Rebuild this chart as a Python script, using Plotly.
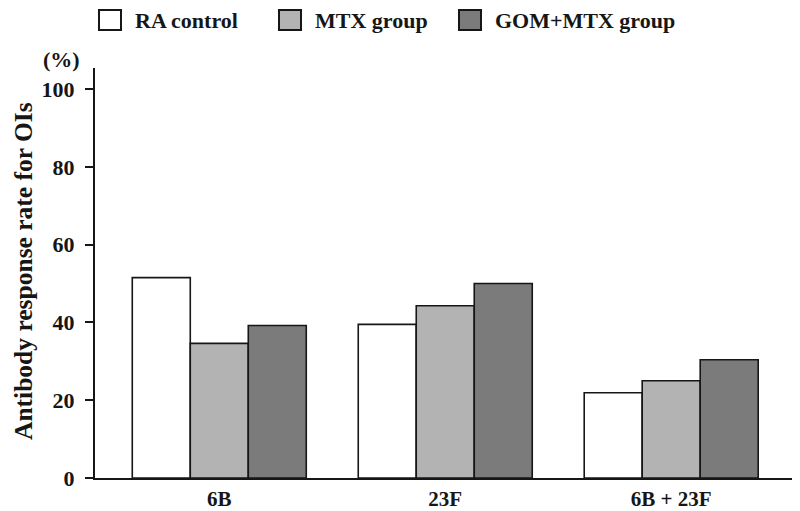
import plotly.graph_objects as go

categories = ["6B", "23F", "6B + 23F"]
ra_control = [51.5, 39.5, 21.9]
mtx_group = [34.6, 44.3, 25.0]
gom_mtx_group = [39.2, 50.0, 30.4]
series_names = ["RA control", "MTX group", "GOM+MTX group"]
series_colors = ["#ffffff", "#b3b3b3", "#7b7b7b"]
y_ticks = [0, 20, 40, 60, 80, 100]

FONT = "Liberation Serif"
INK = "#161616"

# the page adds an 8px body margin; the figure is sized to fill the rest
OFF = 8
W, H = 800 - OFF, 511 - OFF
# plot-area geometry in screen pixels
L, R, T, B = 95, 800, 68, 478
def px(x):
    return (x - L) / (R - L)
def py(y):
    return (B - y) / (B - T)

fig = go.Figure()
for name, vals, col in zip(series_names, [ra_control, mtx_group, gom_mtx_group], series_colors):
    fig.add_trace(go.Bar(
        x=categories, y=vals, name=name, showlegend=False,
        marker=dict(color=col, line=dict(color=INK, width=1.6)),
    ))

fig.update_layout(
    width=W, height=H,
    barmode="group", bargap=0.23, bargroupgap=0,
    plot_bgcolor="white", paper_bgcolor="white",
    margin=dict(l=L - OFF, r=800 - R, t=T - OFF, b=511 - B),
    font=dict(family=FONT, color=INK),
    showlegend=False,
)
fig.update_xaxes(
    range=[-0.55, 2.57], showline=True, linecolor=INK, linewidth=2,
    ticks="", showgrid=False, automargin=False, ticklabelstandoff=1,
    tickfont=dict(family=FONT, size=21, color=INK, weight="bold"),
)
fig.update_yaxes(
    range=[0, 105.4], showline=True, linecolor=INK, linewidth=2,
    ticks="outside", ticklen=8, tickwidth=2, tickcolor=INK,
    tickvals=y_ticks, showgrid=False, zeroline=False, automargin=False,
    ticklabelstandoff=6,
    tickfont=dict(family=FONT, size=22, color=INK, weight="bold"),
)

# y-axis title
fig.add_annotation(
    text="Antibody response rate for OIs", xref="paper", yref="paper",
    x=px(23), y=py(271), xanchor="center", yanchor="middle",
    textangle=-90, showarrow=False,
    font=dict(family=FONT, size=25.5, color=INK, weight="bold"),
)
# unit label
fig.add_annotation(
    text="(%)", xref="paper", yref="paper", x=px(61), y=py(60),
    xanchor="center", yanchor="middle",
    showarrow=False, font=dict(family=FONT, size=22, color=INK, weight="bold"),
)

# custom legend with large square swatches
box_left = [99, 279, 459]
for name, col, bx in zip(series_names, series_colors, box_left):
    fig.add_shape(
        type="rect", xref="paper", yref="paper",
        x0=px(bx), x1=px(bx + 22), y0=py(30), y1=py(10),
        fillcolor=col, line=dict(color=INK, width=2),
    )
    fig.add_annotation(
        text=name, xref="paper", yref="paper", x=px(bx + 34), y=py(20.5),
        xanchor="left", yanchor="middle", showarrow=False,
        font=dict(family=FONT, size=22, color=INK, weight="bold"),
    )

fig.write_html("out.html")
